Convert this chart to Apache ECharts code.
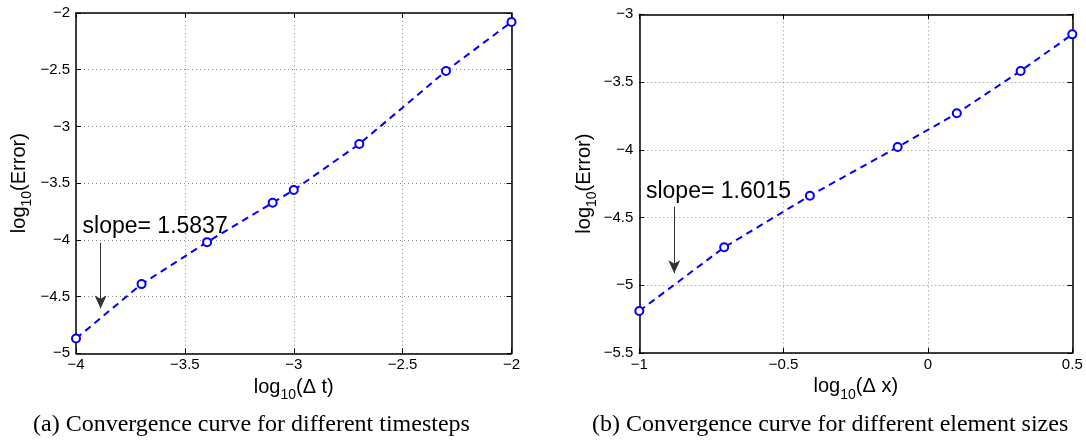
<!DOCTYPE html>
<html>
<head>
<meta charset="utf-8">
<script src="https://cdn.jsdelivr.net/npm/echarts@6/dist/echarts.min.js"></script>
<style>html,body{margin:0;padding:0;background:#fff;}#c{width:1086px;height:447px;}</style>
</head>
<body>
<div id="c"></div>
<script>
// ---- data ----
const dtLog = [-4, -3.699, -3.398, -3.097, -3.0, -2.699, -2.301, -2.0];
const dtErr = [-4.87, -4.39, -4.02, -3.673, -3.561, -3.155, -2.511, -2.079];
const dxLog = [-1.0, -0.706, -0.409, -0.105, 0.1, 0.321, 0.5];
const dxErr = [-5.19, -4.72, -4.339, -3.98, -3.731, -3.418, -3.148];
const slopeA = 'slope= 1.5837';
const slopeB = 'slope= 1.6015';
const captionA = '(a) Convergence curve for different timesteps';
const captionB = '(b) Convergence curve for different element sizes';
const xTicksA = [-4, -3.5, -3, -2.5, -2];
const yTicksA = [-5, -4.5, -4, -3.5, -3, -2.5, -2];
const xTicksB = [-1, -0.5, 0, 0.5];
const yTicksB = [-5.5, -5, -4.5, -4, -3.5, -3];

const FONT = '"Liberation Sans", Arial, Helvetica, sans-serif';
const fmt = v => String(v).replace('-', '\u2212');
const pairs = (xs, ys) => xs.map((x, i) => [x, ys[i]]);

const nameRich = {
  a: {fontSize: 20, fontFamily: FONT, color: '#000', lineHeight: 21, verticalAlign: 'top'},
  s: {fontSize: 14, fontFamily: FONT, color: '#000', lineHeight: 14, verticalAlign: 'top', padding: [11, 0, 0, 0]}
};

const AXLINE = {show: true, onZero: false, lineStyle: {color: '#000', width: 1.5}};
const AXTICK = {show: true, inside: true, length: 5, lineStyle: {color: '#000'}};
const GRIDLINE = {show: true, lineStyle: {type: [1, 3], color: '#888', width: 1}};

function mainX(gi, ticks, nm) {
  return {
    gridIndex: gi, type: 'value', min: ticks[0], max: ticks[ticks.length - 1], interval: 0.5,
    position: 'bottom',
    name: nm, nameLocation: 'middle', nameGap: 19,
    nameTextStyle: {rich: nameRich},
    axisLine: AXLINE, axisTick: AXTICK,
    axisLabel: {margin: 4, color: '#000', fontSize: 15, fontFamily: FONT, formatter: fmt},
    splitLine: GRIDLINE
  };
}
function topX(gi, ticks) {
  return {
    gridIndex: gi, type: 'value', min: ticks[0], max: ticks[ticks.length - 1], interval: 0.5,
    position: 'top',
    axisLine: AXLINE, axisTick: AXTICK,
    axisLabel: {show: false}, splitLine: {show: false}
  };
}
function mainY(gi, ticks, nm, gap) {
  return {
    gridIndex: gi, type: 'value', min: ticks[0], max: ticks[ticks.length - 1], interval: 0.5,
    position: 'left',
    name: nm, nameLocation: 'middle', nameGap: gap, nameRotate: 90,
    nameTextStyle: {rich: nameRich},
    axisLine: AXLINE, axisTick: AXTICK,
    axisLabel: {margin: 6, color: '#000', fontSize: 15, fontFamily: FONT, formatter: fmt},
    splitLine: GRIDLINE
  };
}
function rightY(gi, ticks) {
  return {
    gridIndex: gi, type: 'value', min: ticks[0], max: ticks[ticks.length - 1], interval: 0.5,
    position: 'right',
    axisLine: AXLINE, axisTick: AXTICK,
    axisLabel: {show: false}, splitLine: {show: false}
  };
}

function series(xi, yi, data, text, textPos, arrowFrom, arrowTo) {
  return {
    type: 'line', xAxisIndex: xi, yAxisIndex: yi, data: data,
    symbol: 'emptyCircle', symbolSize: 8,
    lineStyle: {color: '#0000ff', width: 2, type: [7, 5]},
    itemStyle: {color: '#0000ff', borderWidth: 2, borderColor: '#0000ff'},
    animation: false, silent: true,
    markPoint: {
      silent: true, animation: false,
      symbol: 'circle', symbolSize: 0,
      data: [{coord: textPos, value: text}],
      label: {show: true, formatter: text, position: [0, 0], align: 'left', verticalAlign: 'middle',
        color: '#000', fontSize: 23, fontFamily: FONT}
    },
    markLine: {
      silent: true, animation: false,
      symbol: ['none', 'arrow'], symbolSize: [9, 13],
      label: {show: false},
      lineStyle: {color: '#333', width: 1, type: 'solid'},
      data: [[{coord: arrowFrom}, {coord: arrowTo}]]
    }
  };
}

const chart = echarts.init(document.getElementById('c'), null, {renderer: 'canvas'});
chart.setOption({
  animation: false,
  backgroundColor: '#fff',
  textStyle: {fontFamily: FONT},
  grid: [
    {left: 76, right: 574.5, top: 13, bottom: 93.7},
    {left: 639.3, right: 13.7, top: 14.3, bottom: 94}
  ],
  xAxis: [
    mainX(0, xTicksA, '{a|log}{s|10}{a|(\u0394 t)}'),
    topX(0, xTicksA),
    mainX(1, xTicksB, '{a|log}{s|10}{a|(\u0394 x)}'),
    topX(1, xTicksB)
  ],
  yAxis: [
    mainY(0, yTicksA, '{a|log}{s|10}{a|(Error)}', 46),
    rightY(0, yTicksA),
    mainY(1, yTicksB, '{a|log}{s|10}{a|(Error)}', 44),
    rightY(1, yTicksB)
  ],
  series: [
    series(0, 0, pairs(dtLog, dtErr), slopeA, [-3.97, -3.887], [-3.887, -4.025], [-3.887, -4.604]),
    series(2, 2, pairs(dxLog, dxErr), slopeB, [-0.977, -4.311], [-0.879, -4.42], [-0.879, -4.911])
  ],
  graphic: [
    {type: 'text', left: 33, top: 413, style: {text: captionA, fill: '#000', font: '24px "Liberation Serif", "Times New Roman", serif'}},
    {type: 'text', left: 592, top: 413, style: {text: captionB, fill: '#000', font: '24px "Liberation Serif", "Times New Roman", serif'}}
  ]
});
</script>
</body>
</html>
